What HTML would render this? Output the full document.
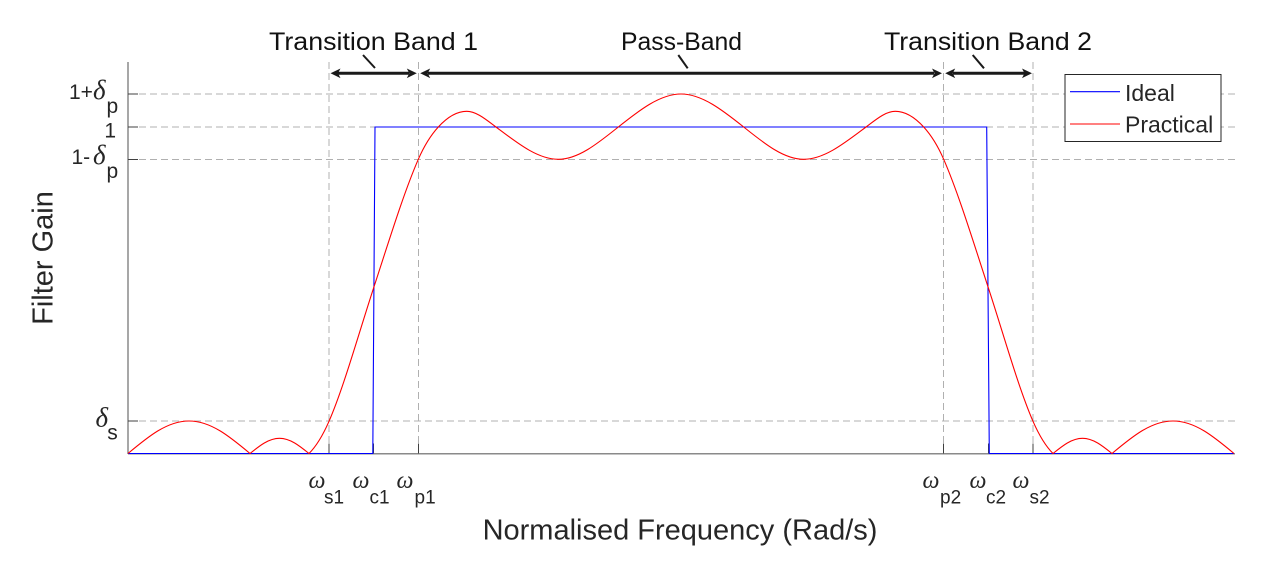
<!DOCTYPE html>
<html>
<head>
<meta charset="utf-8">
<style>
  html, body { margin:0; padding:0; background:#ffffff; }
  svg { display:block; }
  .ax { font-family: "Liberation Sans", Arial, sans-serif; fill:#262626; }
  .gr { font-family: "Liberation Serif", "DejaVu Serif", serif; font-style: italic; fill:#262626; }
  .top { font-family: "Liberation Sans", Arial, sans-serif; fill:#111111; }
</style>
</head>
<body>
<svg width="1284" height="571" viewBox="0 0 1284 571" xmlns="http://www.w3.org/2000/svg">
  <rect x="0" y="0" width="1284" height="571" fill="#ffffff"/>

  <!-- gridlines -->
  <g stroke="#b0b0b0" stroke-width="1" stroke-dasharray="7,4" fill="none">
    <line x1="128" y1="94" x2="1235" y2="94"/>
    <line x1="128" y1="127" x2="1235" y2="127"/>
    <line x1="128" y1="159.5" x2="1235" y2="159.5"/>
    <line x1="128" y1="421" x2="1235" y2="421"/>
    <line x1="329" y1="62" x2="329" y2="453.5"/>
    <line x1="418.5" y1="62" x2="418.5" y2="453.5"/>
    <line x1="943.5" y1="62" x2="943.5" y2="453.5"/>
    <line x1="1033" y1="62" x2="1033" y2="453.5"/>
  </g>

  <!-- axes -->
  <g stroke="#8a8a8a" stroke-width="1.5" fill="none">
    <line x1="128" y1="62" x2="128" y2="454"/>
    <line x1="128" y1="453.8" x2="1235" y2="453.8"/>
  </g>
  <!-- ticks -->
  <g stroke="#404040" stroke-width="1" fill="none">
    <line x1="128" y1="94" x2="138" y2="94"/>
    <line x1="128" y1="127" x2="138" y2="127"/>
    <line x1="128" y1="159.5" x2="138" y2="159.5"/>
    <line x1="128" y1="421" x2="138" y2="421"/>
    <line x1="329" y1="453.5" x2="329" y2="443.5"/>
    <line x1="373.5" y1="453.5" x2="373.5" y2="443.5"/>
    <line x1="418.5" y1="453.5" x2="418.5" y2="443.5"/>
    <line x1="943.5" y1="453.5" x2="943.5" y2="443.5"/>
    <line x1="988.5" y1="453.5" x2="988.5" y2="443.5"/>
    <line x1="1033" y1="453.5" x2="1033" y2="443.5"/>
  </g>

  <!-- Ideal (blue) -->
  <path d="M128,453.5 L372.8,453.5 L375,127 L986.7,127 L989.3,453.5 L1234,453.5" fill="none" stroke="#0000ff" stroke-width="1.1"/>

  <!-- Practical (red) -->
  <path fill="none" stroke="#ff0000" stroke-width="1.1" d="
    M128,453.5
    C147.9,436.85 166.9,421 189,421
    C211.1,421 230.1,436.85 250,453.5
    C259.6,445.7 268.8,438.3 279.5,438.3
    C290.2,438.3 299.4,445.7 309,453.5
    C315.7,446.8 322.3,436.6 329,421.3
    C343.8,387.2 358.7,333.5 373.5,288.3
    C388.4,242.8 403.4,193.6 418.3,159.3
    C425,144 431.6,134.3 438.3,127
    C447.8,116.6 457.2,111.3 466.7,111.3
    C476.5,111.3 486.2,119.7 496,127
    C516.8,142.6 537.5,159.3 558.3,159.3
    C578.3,159.3 598.3,143 618.3,127
    C639.2,110.3 660.1,94 681,94
    C701.9,94 722.8,110.3 743.7,127
    C763.7,143 783.7,159.3 803.7,159.3
    C824.5,159.3 845.2,142.6 866,127
    C875.8,119.7 885.5,111.3 895.3,111.3
    C904.8,111.3 914.2,116.6 923.7,127
    C930.4,134.3 937,144 943.7,159.3
    C958.6,193.6 973.6,242.8 988.5,288.3
    C1003.3,333.5 1018.2,387.2 1033,421.3
    C1039.7,436.6 1046.3,446.8 1053,453.5
    C1062.6,445.7 1071.8,438.3 1082.5,438.3
    C1093.2,438.3 1102.4,445.7 1112,453.5
    C1131.9,436.85 1150.9,421 1173,421
    C1195.1,421 1214.1,436.85 1234,453.5"/>

  <!-- Legend -->
  <rect x="1065" y="74.5" width="156" height="67" fill="#ffffff" stroke="#262626" stroke-width="1"/>
  <line x1="1070" y1="91.7" x2="1120" y2="91.7" stroke="#0000ff" stroke-width="1.1"/>
  <line x1="1070" y1="124" x2="1120" y2="124" stroke="#ff0000" stroke-width="1.1"/>
  <text class="ax" x="1125" y="101" font-size="23">Ideal</text>
  <text class="ax" x="1125" y="132.7" font-size="23">Practical</text>

  <!-- Y tick labels -->
  <text class="ax" x="69" y="99" font-size="21">1+</text>
  <text class="gr" x="93" y="99" font-size="27">δ</text>
  <text class="ax" x="106.5" y="113" font-size="21">p</text>

  <text class="ax" x="116" y="137.5" font-size="21" text-anchor="end">1</text>

  <text class="ax" x="71.5" y="164" font-size="21">1-</text>
  <text class="gr" x="93" y="164" font-size="27">δ</text>
  <text class="ax" x="106.5" y="178" font-size="21">p</text>

  <text class="gr" x="95.5" y="426.7" font-size="27">δ</text>
  <text class="ax" x="107.3" y="439.5" font-size="21">s</text>

  <!-- X tick labels -->
  <g>
    <text class="gr" x="308.5" y="488" font-size="24">ω</text>
    <text class="ax" x="324" y="503.5" font-size="19">s1</text>
    <text class="gr" x="352.5" y="488" font-size="24">ω</text>
    <text class="ax" x="369.5" y="503.5" font-size="19">c1</text>
    <text class="gr" x="396.5" y="488" font-size="24">ω</text>
    <text class="ax" x="414.5" y="503.5" font-size="19">p1</text>

    <text class="gr" x="922.5" y="488" font-size="24">ω</text>
    <text class="ax" x="940" y="503.5" font-size="19">p2</text>
    <text class="gr" x="969.5" y="488" font-size="24">ω</text>
    <text class="ax" x="986" y="503.5" font-size="19">c2</text>
    <text class="gr" x="1012.5" y="488" font-size="24">ω</text>
    <text class="ax" x="1029.5" y="503.5" font-size="19">s2</text>
  </g>

  <!-- Axis labels -->
  <text class="ax" x="680" y="539.3" font-size="29" text-anchor="middle">Normalised Frequency (Rad/s)</text>
  <text class="ax" transform="translate(52.5,258) rotate(-90)" font-size="29" text-anchor="middle">Filter Gain</text>

  <!-- Top annotations -->
  <text class="top" x="269" y="50" font-size="25" textLength="209" lengthAdjust="spacingAndGlyphs">Transition Band 1</text>
  <text class="top" x="621" y="50" font-size="25" textLength="121" lengthAdjust="spacingAndGlyphs">Pass-Band</text>
  <text class="top" x="884" y="50" font-size="25" textLength="208" lengthAdjust="spacingAndGlyphs">Transition Band 2</text>

  <!-- leader lines -->
  <g stroke="#1a1a1a" stroke-width="2" fill="none">
    <line x1="363" y1="55" x2="375" y2="68"/>
    <line x1="678.3" y1="55" x2="687.7" y2="68.3"/>
    <line x1="972.7" y1="55" x2="984" y2="68.3"/>
  </g>

  <!-- arrows -->
  <g stroke="#1a1a1a" stroke-width="3" fill="none">
    <line x1="337" y1="73.3" x2="409" y2="73.3"/>
    <line x1="428" y1="73.3" x2="934" y2="73.3"/>
    <line x1="953" y1="73.3" x2="1025" y2="73.3"/>
  </g>
  <g fill="#1a1a1a" stroke="none">
    <polygon points="330.5,73.3 340.5,68.5 338,73.3 340.5,78.1"/>
    <polygon points="416.8,73.3 406.8,68.5 409.3,73.3 406.8,78.1"/>
    <polygon points="420.2,73.3 430.2,68.5 427.7,73.3 430.2,78.1"/>
    <polygon points="942,73.3 932,68.5 934.5,73.3 932,78.1"/>
    <polygon points="945.2,73.3 955.2,68.5 952.7,73.3 955.2,78.1"/>
    <polygon points="1032,73.3 1022,68.5 1024.5,73.3 1022,78.1"/>
  </g>
</svg>
</body>
</html>
